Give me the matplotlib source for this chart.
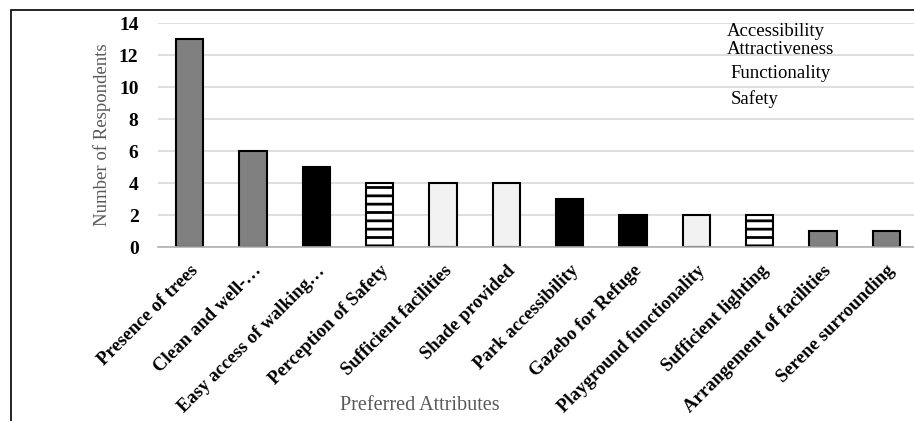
import matplotlib
matplotlib.use("Agg")
import matplotlib.pyplot as plt
from matplotlib.patches import Rectangle

categories = ["Presence of trees", "Clean and well-\u2026", "Easy access of walking\u2026",
              "Perception of Safety", "Sufficient facilities", "Shade provided",
              "Park accessibility", "Gazebo for Refuge", "Playground functionality",
              "Sufficient lighting", "Arrangement of facilities", "Serene surrounding"]
values = [13, 6, 5, 4, 4, 4, 3, 2, 2, 2, 1, 1]
groups = ["Attractiveness", "Attractiveness", "Accessibility", "Safety", "Functionality",
          "Functionality", "Accessibility", "Accessibility", "Functionality", "Safety",
          "Attractiveness", "Attractiveness"]
legend_labels = ["Accessibility", "Attractiveness", "Functionality", "Safety"]
y_ticks = [0, 2, 4, 6, 8, 10, 12, 14]

styles = {
    "Accessibility": dict(color="#000000", hatch=None),
    "Attractiveness": dict(color="#808080", hatch=None),
    "Functionality": dict(color="#f2f2f2", hatch=None),
    "Safety": dict(color="#ffffff", hatch="--"),
}

plt.rcParams["font.family"] = ["Liberation Serif", "DejaVu Serif"]
plt.rcParams["hatch.linewidth"] = 2.0
plt.rcParams["hatch.color"] = "black"

W, H = 914, 421
fig = plt.figure(figsize=(W / 100, H / 100), dpi=100)
ax = fig.add_axes([158 / W, (H - 247) / H, 760 / W, 224 / H])

x = list(range(len(categories)))
for xi, v, g in zip(x, values, groups):
    st = styles[g]
    ax.bar(xi, v, width=0.43, color=st["color"], edgecolor="black", linewidth=1.5,
           hatch=st["hatch"], zorder=3)

ax.set_xlim(-0.5, len(categories) - 0.5)
ax.set_ylim(0, 14)
ax.set_yticks(y_ticks)
ax.set_yticklabels([str(t) for t in y_ticks], fontweight="bold", fontsize=14)
ax.tick_params(axis="y", length=0, pad=14)
ax.grid(axis="y", color="#d9d9d9", linewidth=1.2, zorder=0)
ax.set_axisbelow(True)
for s in ["top", "right", "left"]:
    ax.spines[s].set_visible(False)
ax.spines["bottom"].set_color("#b0b0b0")
ax.spines["bottom"].set_linewidth(1.2)
ax.spines["bottom"].set_zorder(4)

ax.set_xticks(x)
ax.set_xticklabels(categories, rotation=45, ha="right", va="top",
                   rotation_mode="anchor", fontweight="bold", fontsize=13.5)
ax.tick_params(axis="x", length=0, pad=11)

ax.set_ylabel("Number of Respondents", color="#595959", fontsize=13.5)
ax.yaxis.set_label_coords(-(158 - 111) / 760, 0.5)
fig.text(420 / W, 1 - 405 / H, "Preferred Attributes", color="#595959",
         fontsize=14.5, ha="center", va="center")

leg_pos = [(727, 31), (727, 50), (730, 73), (731, 99)]
for lab, (px, py) in zip(legend_labels, leg_pos):
    fig.text(px / W, 1 - py / H, lab, fontsize=13.5, ha="left", va="center")

fig.patches.append(Rectangle((11 / W, -0.05), 1.2, 1 - 10 / H + 0.05, transform=fig.transFigure,
                             fill=False, edgecolor="black", linewidth=1.2, figure=fig))

fig.savefig("out.png", dpi=100)
